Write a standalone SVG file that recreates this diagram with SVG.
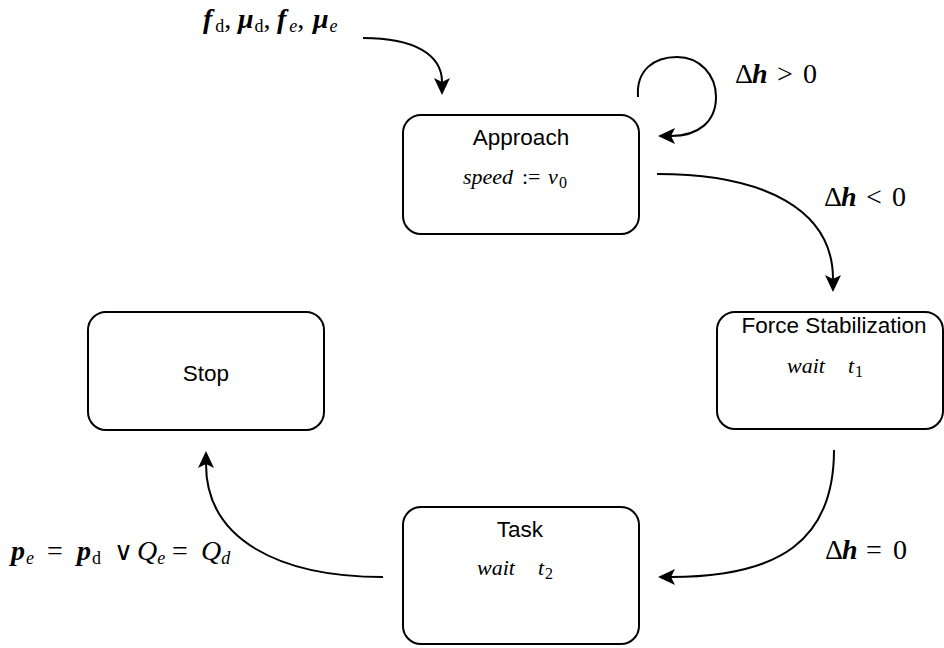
<svg xmlns="http://www.w3.org/2000/svg" width="944" height="648" viewBox="0 0 944 648">
  <defs>
    <marker id="arrow" markerUnits="userSpaceOnUse" markerWidth="20" markerHeight="18" viewBox="0 -9 20 18" refX="4" refY="0" orient="auto">
      <path d="M0,-8 L17,0 L0,8 L4,0 Z" fill="#000"/>
    </marker>
    <style>
      .node rect { fill: #fff; stroke: #000; stroke-width: 2; }
      .title { font-family: "Liberation Sans", Arial, Helvetica, sans-serif; font-size: 22.5px; text-anchor: middle; fill: #000; }
      .math { font-family: "Liberation Serif", "Times New Roman", serif; fill: #000; }
      .it { font-style: italic; }
      .bi { font-style: italic; font-weight: bold; }
      .up { font-style: normal; font-weight: normal; }
      .sub { font-size: 18px; }
      .edge { fill: none; stroke: #000; stroke-width: 2; marker-end: url(#arrow); }
    </style>
  </defs>

  <rect width="944" height="648" fill="#fff"/>

  <!-- connectors -->
  <g id="edges">
    <path id="e-input" class="edge" d="M 363 38 C 415 38, 442 55, 442 82"/>
    <path id="e-loop" class="edge" d="M 638 97 C 636 70, 654 57, 677 57 C 700 57, 716 75, 716 97 C 716 122, 698 136, 671 136"/>
    <path id="e-approach-force" class="edge" d="M 657 174 C 765 174, 833 210, 833 279"/>
    <path id="e-force-task" class="edge" d="M 834 450 C 834 540, 780 577, 671 577"/>
    <path id="e-task-stop" class="edge" d="M 383 577 C 280 577, 206 540, 206 464"/>
  </g>

  <!-- edge labels -->
  <g id="labels" class="math" font-size="28">
    <text y="28"><tspan class="bi" x="203">f</tspan><tspan class="up sub" dx="3" dy="4">d</tspan><tspan dy="-4">,</tspan><tspan class="bi" x="238">μ</tspan><tspan class="up sub" dx="1" dy="4">d</tspan><tspan dy="-4">,</tspan><tspan class="bi" x="277">f</tspan><tspan class="it sub" dx="3" dy="4">e</tspan><tspan dy="-4">,</tspan><tspan class="bi" x="313">μ</tspan><tspan class="it sub" dx="1" dy="4">e</tspan></text>

    <text y="83"><tspan x="735">Δ</tspan><tspan class="bi" x="752">h</tspan><tspan x="777">&gt;</tspan><tspan x="803">0</tspan></text>
    <text y="206"><tspan x="824">Δ</tspan><tspan class="bi" x="841">h</tspan><tspan x="866">&lt;</tspan><tspan x="892">0</tspan></text>
    <text y="559"><tspan x="825">Δ</tspan><tspan class="bi" x="842">h</tspan><tspan x="866">=</tspan><tspan x="893">0</tspan></text>

    <text y="560"><tspan class="bi" x="11">p</tspan><tspan class="it sub" dx="1" dy="4">e</tspan><tspan x="47" dy="-4">=</tspan><tspan class="bi" x="77">p</tspan><tspan class="up sub" dx="1" dy="4">d</tspan><tspan x="114" dy="-4" font-size="26">∨</tspan><tspan class="it" x="137">Q</tspan><tspan class="it sub" dx="0" dy="4">e</tspan><tspan x="172" dy="-4">=</tspan><tspan class="it" x="201">Q</tspan><tspan class="it sub" dx="0" dy="4">d</tspan></text>
  </g>

  <!-- states -->
  <g id="approach" class="node">
    <rect x="403" y="115" width="236" height="119" rx="18"/>
    <text class="title" x="521" y="145">Approach</text>
    <text class="math it" y="184" font-size="22"><tspan x="463">speed</tspan><tspan class="up" x="522">:=</tspan><tspan x="548">v</tspan><tspan class="up" x="559" font-size="16" dy="4">0</tspan></text>
  </g>

  <g id="force-stabilization" class="node">
    <rect x="717" y="312" width="226" height="117" rx="18"/>
    <text class="title" x="834" y="333">Force Stabilization</text>
    <text class="math it" y="373" font-size="22"><tspan x="787">wait</tspan><tspan x="848">t</tspan><tspan class="up" x="855" font-size="16" dy="4">1</tspan></text>
  </g>

  <g id="stop" class="node">
    <rect x="88" y="312" width="236" height="118" rx="18"/>
    <text class="title" x="206" y="381">Stop</text>
  </g>

  <g id="task" class="node">
    <rect x="403" y="507" width="236" height="137" rx="18"/>
    <text class="title" x="520" y="537">Task</text>
    <text class="math it" y="575" font-size="22"><tspan x="477">wait</tspan><tspan x="538">t</tspan><tspan class="up" x="545" font-size="16" dy="4">2</tspan></text>
  </g>
</svg>
